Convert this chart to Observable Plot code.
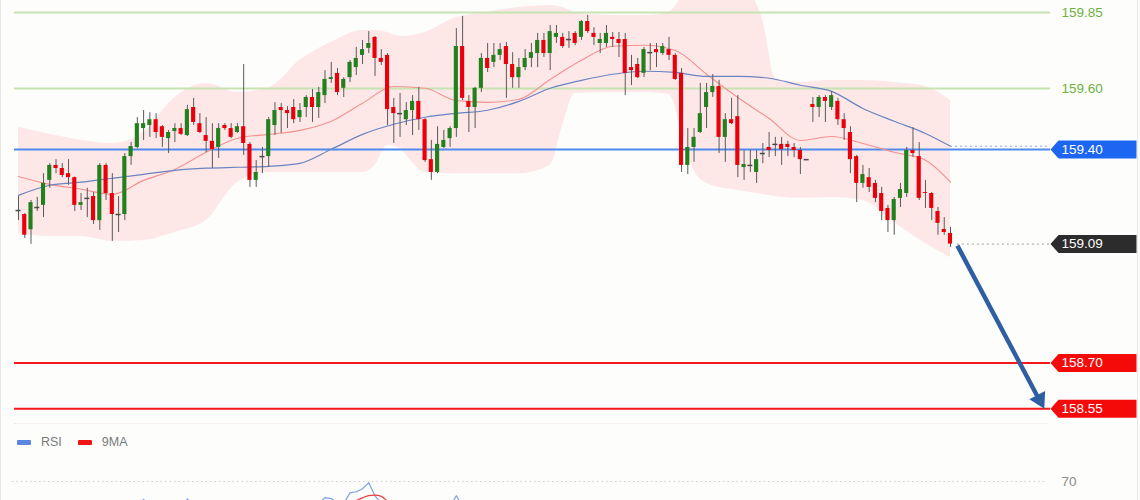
<!DOCTYPE html>
<html><head><meta charset="utf-8">
<script src="https://cdn.jsdelivr.net/npm/d3@7"></script>
<script src="https://cdn.jsdelivr.net/npm/@observablehq/plot@0.6"></script>
<style>
html,body{margin:0;padding:0;background:#fdfdfc;overflow:hidden}
#wrap{position:relative;width:1140px;height:500px;overflow:hidden;background:#fdfdfc;font-family:"Liberation Sans",Arial,sans-serif}
#main{position:absolute;left:0;top:0}
#rsi{position:absolute;left:0;top:460px}
#legend{position:absolute;left:17px;top:434px;height:16px;font-size:12.5px;color:#7a7a7a;display:flex;align-items:center}
.sw{display:inline-block;width:14px;height:5px;border-radius:1px;margin-right:10px}
#sep{position:absolute;left:14px;top:423px;width:1034px;border-top:1px dotted #f4e8e8}
.edge{position:absolute;top:0;width:1px;height:500px;background:#e9e9e9}
</style></head>
<body><div id="wrap">
<div id="main"></div>
<div id="sep"></div>
<div id="legend"><span class="sw" style="background:#5b86e0"></span><span style="margin-right:16px">RSI</span><span class="sw" style="background:#f01414"></span><span>9MA</span></div>
<div id="rsi"></div>
<div class="edge" style="left:0"></div>
<div class="edge" style="left:1137px"></div>
</div>
<script>
// ---- candle data (price) ----
const opens = [159.200,159.187,159.137,159.210,159.217,159.299,159.348,159.338,159.321,159.308,159.217,159.240,159.246,159.167,159.348,159.256,159.187,159.187,159.377,159.407,159.469,159.479,159.498,159.475,159.436,159.459,159.469,159.446,159.538,159.485,159.446,159.427,159.407,159.479,159.469,159.456,159.475,159.417,159.299,159.377,159.377,159.479,159.538,159.528,159.538,159.505,159.538,159.571,159.538,159.577,159.630,159.650,159.601,159.636,159.669,159.709,159.732,159.768,159.699,159.709,159.538,159.518,159.498,159.528,159.558,159.498,159.367,159.325,159.407,159.436,159.469,159.738,159.558,159.538,159.601,159.699,159.686,159.709,159.738,159.679,159.636,159.669,159.699,159.715,159.758,159.715,159.768,159.768,159.761,159.781,159.768,159.820,159.781,159.748,159.748,159.768,159.761,159.761,159.669,159.679,159.650,159.718,159.728,159.715,159.728,159.709,159.650,159.348,159.407,159.456,159.538,159.587,159.607,159.440,159.498,159.508,159.341,159.348,159.325,159.387,159.407,159.417,159.417,159.417,159.407,159.397,159.367,159.548,159.538,159.571,159.538,159.558,159.498,159.456,159.377,159.289,159.308,159.289,159.256,159.207,159.167,159.240,159.256,159.397,159.377,159.259,159.256,159.197,159.138,159.125];
const highs = [159.246,159.190,159.233,159.243,159.321,159.354,159.367,159.354,159.367,159.310,159.256,159.273,159.259,159.354,159.354,159.321,159.246,159.387,159.423,159.505,159.528,159.521,159.518,159.479,159.463,159.485,159.485,159.545,159.568,159.518,159.505,159.485,159.485,159.485,159.485,159.485,159.679,159.423,159.364,159.407,159.505,159.554,159.551,159.541,159.564,159.551,159.577,159.597,159.604,159.659,159.686,159.666,159.636,159.692,159.735,159.758,159.787,159.771,159.728,159.715,159.568,159.584,159.554,159.577,159.604,159.502,159.430,159.475,159.463,159.475,159.797,159.837,159.577,159.604,159.715,159.748,159.748,159.748,159.751,159.718,159.699,159.728,159.748,159.781,159.781,159.807,159.807,159.781,159.787,159.787,159.823,159.840,159.800,159.781,159.807,159.784,159.784,159.781,159.709,159.699,159.735,159.748,159.748,159.748,159.768,159.715,159.666,159.469,159.469,159.617,159.617,159.646,159.627,159.518,159.568,159.577,159.397,159.397,159.397,159.420,159.456,159.440,159.440,159.427,159.420,159.407,159.367,159.571,159.577,159.577,159.590,159.568,159.518,159.475,159.381,159.348,159.338,159.299,159.276,159.217,159.243,159.289,159.407,159.472,159.423,159.299,159.259,159.210,159.177,159.145];
const lows = [159.167,159.109,159.089,159.197,159.177,159.273,159.321,159.308,159.283,159.197,159.200,159.177,159.154,159.135,159.233,159.099,159.128,159.167,159.348,159.403,159.430,159.440,159.436,159.407,159.387,159.423,159.446,159.443,159.479,159.453,159.390,159.338,159.371,159.463,159.436,159.453,159.381,159.276,159.276,159.321,159.341,159.446,159.453,159.469,159.485,159.489,159.505,159.489,159.502,159.551,159.617,159.577,159.571,159.620,159.643,159.679,159.715,159.640,159.676,159.479,159.420,159.440,159.479,159.446,159.463,159.358,159.299,159.321,159.403,159.407,159.440,159.561,159.456,159.469,159.587,159.653,159.669,159.692,159.568,159.601,159.601,159.659,159.669,159.669,159.702,159.659,159.748,159.732,159.732,159.741,159.758,159.781,159.741,159.715,159.735,159.735,159.702,159.577,159.610,159.633,159.636,159.659,159.669,159.709,159.692,159.627,159.325,159.318,159.358,159.453,159.469,159.571,159.387,159.358,159.482,159.308,159.299,159.325,159.289,159.354,159.374,159.377,159.348,159.377,159.374,159.318,159.367,159.489,159.505,159.489,159.528,159.479,159.430,159.321,159.226,159.273,159.259,159.226,159.167,159.128,159.119,159.210,159.243,159.374,159.233,159.207,159.167,159.119,159.119,159.079];
const closes = [159.200,159.119,159.226,159.210,159.289,159.348,159.338,159.315,159.308,159.217,159.226,159.240,159.167,159.348,159.256,159.187,159.187,159.377,159.410,159.485,159.485,159.498,159.456,159.440,159.456,159.469,159.450,159.531,159.489,159.456,159.427,159.400,159.469,159.469,159.440,159.475,159.420,159.299,159.325,159.377,159.498,159.528,159.528,159.518,159.498,159.528,159.571,159.538,159.587,159.630,159.636,159.587,159.630,159.686,159.699,159.728,159.748,159.699,159.686,159.531,159.518,159.518,159.528,159.558,159.498,159.364,159.325,159.417,159.430,159.469,159.738,159.568,159.538,159.601,159.699,159.666,159.709,159.728,159.679,159.636,159.669,159.699,159.718,159.758,159.715,159.787,159.781,159.738,159.761,159.748,159.820,159.787,159.768,159.761,159.781,159.761,159.748,159.650,159.659,159.636,159.728,159.718,159.718,159.738,159.709,159.630,159.348,159.407,159.440,159.518,159.587,159.607,159.440,159.498,159.485,159.348,159.351,159.348,159.367,159.387,159.397,159.417,159.400,159.407,159.397,159.367,159.367,159.538,159.571,159.558,159.577,159.498,159.469,159.367,159.289,159.318,159.276,159.240,159.197,159.167,159.236,159.269,159.397,159.387,159.240,159.256,159.207,159.158,159.128,159.090];

// ---- Bollinger band (candle index, upper, lower) ----
const bandIdx   = [0,5,10,15,20,25,30,35,40,45,50,55,57,59,61,63,65,70,75,80,85,87,89,95,100,104,106,108,110,115,117,119,121,125,130,135,140,145,149];
const bandUpper = [159.473,159.450,159.430,159.420,159.457,159.571,159.617,159.588,159.602,159.693,159.752,159.791,159.791,159.784,159.771,159.774,159.784,159.833,159.850,159.866,159.873,159.866,159.850,159.840,159.840,159.850,159.895,159.915,159.915,159.915,159.905,159.823,159.633,159.620,159.627,159.627,159.620,159.607,159.561];
const bandLower = [159.125,159.115,159.115,159.099,159.102,159.128,159.167,159.292,159.325,159.325,159.325,159.325,159.348,159.413,159.403,159.358,159.325,159.321,159.321,159.321,159.348,159.479,159.584,159.587,159.587,159.581,159.463,159.331,159.289,159.266,159.259,159.253,159.246,159.240,159.243,159.233,159.161,159.092,159.046];

// ---- moving averages (candle index, value) ----
const maIdx  = [0,5,10,15,20,25,30,35,40,45,50,55,60,65,70,75,80,85,90,95,100,105,110,115,120,125,130,135,140,145,149];
const maRed  = [159.312,159.286,159.270,159.253,159.299,159.335,159.391,159.437,159.450,159.463,159.493,159.552,159.607,159.601,159.561,159.555,159.565,159.630,159.693,159.739,159.742,159.725,159.647,159.571,159.502,159.430,159.443,159.420,159.391,159.365,159.293];
const maBlue = [159.250,159.283,159.293,159.306,159.319,159.332,159.339,159.342,159.345,159.355,159.401,159.450,159.483,159.506,159.519,159.529,159.558,159.601,159.627,159.647,159.657,159.653,159.640,159.640,159.634,159.611,159.591,159.535,159.493,159.453,159.411];

// ---- levels ----
const greenLevels = [159.85, 159.60];
const blueLevels  = [159.40];
const redLevels   = [158.70, 158.55];

// ---- RSI panel (visible fragments only; null = gap) ----
const rsiIdx = [19,20,21,null,26,27,28,null,48,49,50,51,52,53,54,55,56,57,58,null,69,70,71];
const rsiVal = [57,60.6,57,null,56,60.8,57,null,58.5,61.5,61,58.5,58.5,64,64.6,66.2,69.4,62.4,58.5,null,57,62.5,57];
const maRsiIdx = [52,53,54,55,56,57,58,59,60];
const maRsiVal = [56,58.4,60,61.4,62.6,62.8,62.2,59.5,57];
const rsiLevels = [70];

// ---------------------------------------------------
const n = opens.length;
const candles = opens.map((o, i) => ({i, open: o, high: highs[i], low: lows[i], close: closes[i]}));
const up = candles.filter(d => d.close > d.open);
const down = candles.filter(d => d.close < d.open);
const doji = candles.filter(d => d.close === d.open);
const band = bandIdx.map((i, k) => ({i, upper: bandUpper[k], lower: bandLower[k]}));
const redMA = maIdx.map((i, k) => ({i, v: maRed[k]}));
const blueMA = maIdx.map((i, k) => ({i, v: maBlue[k]}));
const last = closes[n - 1];
const tags = [
  {v: blueLevels[0], fill: "#1c66f2"},
  {v: last, fill: "#2c2c2c"},
  {v: redLevels[0], fill: "#f50a0a"},
  {v: redLevels[1], fill: "#f50a0a"}
];
const arrow = [{x1: n - 1 + 1.1, y1: last - 0.005, x2: n - 1 + 15, y2: redLevels[1]}];

const tagSymbol = {draw(ctx) {
  ctx.moveTo(0, 0); ctx.lineTo(8, -9); ctx.lineTo(86, -9); ctx.lineTo(86, 9); ctx.lineTo(8, 9); ctx.closePath();
}};
const headSymbol = {draw(ctx) {
  ctx.moveTo(0, 0); ctx.lineTo(-15, -9.5); ctx.lineTo(0.8, -17.8); ctx.closePath();
}};

const H = 425;
const yTop = 159.889, pxPerUnit = 1 / 0.00328;
const font = "'Liberation Sans', Arial, sans-serif";

const main = Plot.plot({
  width: 1140, height: H,
  marginLeft: 14, marginRight: 90, marginTop: 0, marginBottom: 0,
  style: {background: "transparent", fontFamily: font, overflow: "visible"},
  x: {domain: [0, n - 1], range: [18, 950], axis: null},
  y: {domain: [yTop - H / pxPerUnit, yTop], range: [H, 0], axis: null},
  color: {type: "identity"},
  marks: [
    Plot.areaY(band, {x: "i", y1: "lower", y2: "upper", fill: "#fde7e7", curve: "monotone-x"}),
    Plot.ruleY(greenLevels, {stroke: "#c6e4b2", strokeWidth: 2}),
    Plot.ruleY(blueLevels, {stroke: "#4f8bee", strokeWidth: 2}),
    Plot.ruleY(redLevels, {stroke: "#f21a1a", strokeWidth: 2}),
    Plot.line(redMA, {x: "i", y: "v", stroke: "#f39292", strokeWidth: 1.1, curve: "monotone-x"}),
    Plot.line(blueMA, {x: "i", y: "v", stroke: "#6a84c2", strokeWidth: 1.2, curve: "monotone-x"}),
    Plot.ruleY([maBlue[maBlue.length - 1]], {x1: n - 1, x2: 165, stroke: "#8fa3cf", strokeDasharray: "2,3"}),
    Plot.ruleY([last], {x1: n - 1 + 1.1, x2: 165, stroke: "#a0a0a0", strokeDasharray: "2,3"}),
    Plot.ruleX(candles, {x: "i", y1: "low", y2: "high", stroke: "#5a5a5a", strokeWidth: 1}),
    Plot.rect(up, {x1: d => d.i - 0.33, x2: d => d.i + 0.33, y1: "open", y2: "close", fill: "#22801f"}),
    Plot.rect(down, {x1: d => d.i - 0.33, x2: d => d.i + 0.33, y1: "open", y2: "close", fill: "#e8000b"}),
    Plot.ruleY(doji, {y: "open", x1: d => d.i - 0.4, x2: d => d.i + 0.4, stroke: "#4a4a4a", strokeWidth: 1.5}),
    Plot.link(arrow, {x1: "x1", y1: "y1", x2: d => d.x2 - 1, y2: d => d.y2 + 0.037, stroke: "#2f5fa3", strokeWidth: 4.5}),
    Plot.dot(arrow, {x: "x2", y: "y2", symbol: headSymbol, fill: "#2f5fa3", stroke: null}),
    Plot.dot(tags, {y: "v", frameAnchor: "right", symbol: tagSymbol, fill: "fill", stroke: null}),
    Plot.text(tags, {y: "v", text: d => d.v.toFixed(2), frameAnchor: "right", dx: 11, textAnchor: "start", fill: "white", fontSize: 13.5}),
    Plot.text(greenLevels, {y: d => d, text: d => d.toFixed(2), frameAnchor: "right", dx: 11, textAnchor: "start", fill: "#6bb23c", fontSize: 13.5})
  ]
});
document.getElementById("main").append(main);

const rsiPts = rsiIdx.map((i, k) => ({i, v: rsiVal[k]}));
const maRsi = maRsiIdx.map((i, k) => ({i, v: maRsiVal[k]}));
const rsi = Plot.plot({
  width: 1140, height: 80,
  marginLeft: 12, marginRight: 93, marginTop: 0, marginBottom: 0,
  style: {background: "transparent", fontFamily: font, overflow: "visible"},
  x: {domain: [0, n - 1], range: [18, 950], axis: null},
  y: {domain: [60, 70], range: [40, 21], axis: null},
  marks: [
    Plot.ruleY(rsiLevels, {stroke: "#cfcfcf", strokeDasharray: "1.5,3"}),
    Plot.text(rsiLevels, {y: d => d, text: d => String(d), frameAnchor: "right", dx: 14, textAnchor: "start", fill: "#8a8a8a", fontSize: 13.5}),
    Plot.line(rsiPts, {x: "i", y: "v", stroke: "#7f9fe6", strokeWidth: 1.2, defined: d => d.v != null}),
    Plot.line(maRsi, {x: "i", y: "v", stroke: "#f03c3c", strokeWidth: 1.2, curve: "monotone-x"})
  ]
});
document.getElementById("rsi").append(rsi);
</script>
</body></html>
